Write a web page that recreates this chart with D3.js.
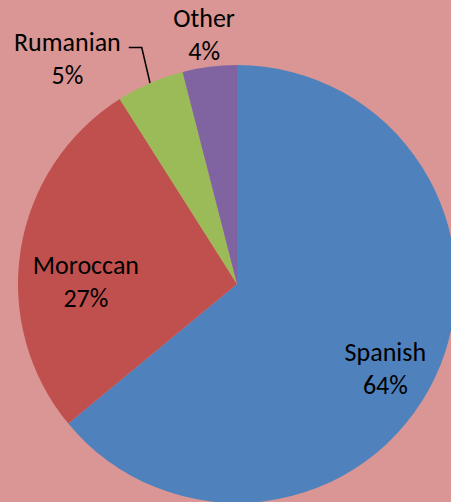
<!DOCTYPE html>
<html>
<head>
<meta charset="utf-8">
<script src="https://cdn.jsdelivr.net/npm/d3@7"></script>
<style>
  html, body { margin: 0; padding: 0; background: #d99694; overflow: hidden; }
  text { font-family: Carlito, Calibri, Lato, sans-serif; }
</style>
</head>
<body>
<div id="pie_chart"></div>
<script>
// data
var categories = ['Spanish', 'Moroccan', 'Rumanian', 'Other'];
var values = [64, 27, 5, 4];
var colors = ['#4f81bd', '#c0504d', '#9bbb59', '#8064a2'];

var width = 451;
var height = 502;
var cx = 237, cy = 284;
var radius = 219;

var svg = d3.select('#pie_chart')
    .append('svg')
    .attr('width', width)
    .attr('height', height);

svg.append('rect')
    .attr('width', width)
    .attr('height', height)
    .attr('fill', '#d99694');

var g = svg.append('g')
    .attr('transform', 'translate(' + cx + ',' + cy + ')');

var rows = categories.map(function(c, i) { return { name: c, value: values[i], color: colors[i] }; });
var total = d3.sum(values);

var pie = d3.pie().sort(null).value(function(d) { return d.value; });
var arcs = pie(rows);

var arc = d3.arc().innerRadius(0).outerRadius(radius);

g.selectAll('path.slice')
    .data(arcs)
    .join('path')
    .attr('class', 'slice')
    .attr('d', arc)
    .attr('fill', function(d) { return d.data.color; });

// label placement: radial factor and angle nudge (degrees) per slice
var labelPos = {
  Spanish:  { k: 0.78, da: 4.5 },
  Moroccan: { k: 0.69, da: -8 },
  Rumanian: { k: 1.29, da: -13.5 },
  Other:    { k: 1.15, da: -0.3 }
};

function polar(angle, r) {
  return [Math.sin(angle) * r, -Math.cos(angle) * r];
}

var fontSize = 26;
var lineGap = 33;

var labels = g.selectAll('g.label')
    .data(arcs)
    .join('g')
    .attr('class', 'label')
    .attr('transform', function(d) {
      var p = labelPos[d.data.name];
      var mid = (d.startAngle + d.endAngle) / 2 + p.da * Math.PI / 180;
      var pos = polar(mid, radius * p.k);
      return 'translate(' + pos[0] + ',' + pos[1] + ')';
    });

labels.append('text')
    .attr('text-anchor', 'middle')
    .attr('y', -lineGap / 2 + fontSize * 0.35)
    .style('font-size', fontSize + 'px')
    .attr('fill', '#000')
    .text(function(d) { return d.data.name; });

labels.append('text')
    .attr('text-anchor', 'middle')
    .attr('y', lineGap / 2 + fontSize * 0.35)
    .style('font-size', fontSize + 'px')
    .attr('fill', '#000')
    .text(function(d) { return Math.round(d.data.value / total * 100) + '%'; });

// leader line for Rumanian
var rum = arcs[2];
var rumMid = (rum.startAngle + rum.endAngle) / 2;
var tip = polar(rumMid, radius);
var labelBox = labels.filter(function(d) { return d.data.name === 'Rumanian'; });
var bb = labelBox.select('text').node().getBBox();
var lp = labelBox.datum();
var p = labelPos.Rumanian;
var lc = polar((lp.startAngle + lp.endAngle) / 2 + p.da * Math.PI / 180, radius * p.k);
var startX = lc[0] + bb.x + bb.width + 8;
var startY = lc[1] - lineGap / 2 + 6;

g.append('polyline')
    .attr('points', [[startX, startY], [startX + 13, startY], tip].join(' '))
    .attr('fill', 'none')
    .attr('stroke', '#000')
    .attr('stroke-width', 1.5);
</script>
</body>
</html>
